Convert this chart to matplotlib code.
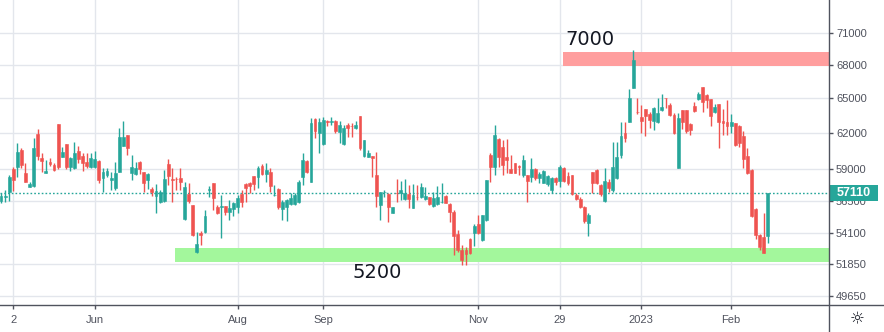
import matplotlib

matplotlib.use("Agg")
import matplotlib.pyplot as plt
import numpy as np
from matplotlib.lines import Line2D
from matplotlib.patches import Rectangle
from matplotlib.ticker import NullLocator
from matplotlib.transforms import blended_transform_factory

# daily OHLC, oldest first
opens = [
    56490, 56820, 57190, 59010, 59170, 60550, 58690, 57580, 57660, 61880,
    59900, 58690, 59570, 59330, 62730, 59980, 61050, 59170, 59090, 60470,
    60060, 59570, 59170, 59170, 59650, 58290, 58530, 58130, 57500, 58770,
    60880, 61800, 58690, 58610, 59570, 58770, 58130, 57420, 56880, 56420,
    56490, 59410, 58210, 58240, 58290, 55130, 57030, 56190, 52710, 54090,
    54160, 57380, 57890, 56030, 56070, 56110, 55660, 55880, 56030, 57030,
    57810, 57890, 58450, 58370, 59250, 58610, 58770, 56920, 57420, 55880,
    56030, 56260, 56260, 56420, 58370, 59650, 57970, 63160, 61970, 61050,
    62990, 62940, 62990, 62060, 61050, 62650, 62580, 62390, 63420, 60060,
    59980, 60060, 58530, 56190, 57150, 57030, 55580, 57130, 57110, 56650,
    57030, 55960, 56820, 56800, 56650, 56800, 56110, 56260, 56400, 56880,
    56260, 55660, 54020, 52850, 52850, 53650, 54090, 54750, 53580, 55050,
    60140, 59170, 61470, 60800, 59980, 59010, 59490, 59250, 58530, 58530,
    58370, 59010, 58290, 57890, 57810, 57340, 58290, 58050, 59090, 58450,
    58530, 56960, 56650, 56030, 54830, 58770, 58930, 57740, 56490, 57970,
    57340, 58290, 60140, 61970, 62900, 65880, 63790, 63330, 64030, 63590,
    62990, 62900, 63940, 65010, 64380, 63510, 59090, 63940, 63940, 62730,
    64290, 64900, 65970, 65260, 64900, 63760, 64460, 62990, 62900, 62560,
    62820, 62560, 61720, 60060, 58930, 55880, 53940, 53800, 53870,
]
highs = [
    57110, 57340, 58530, 59170, 61130, 60720, 59490, 57970, 61550, 62310,
    60310, 59730, 59900, 59490, 62730, 60800, 61050, 59980, 61220, 60880,
    60310, 60310, 60310, 60470, 59730, 59090, 59090, 58770, 59570, 62390,
    62990, 61800, 60140, 59570, 59650, 58770, 58690, 57580, 57810, 57340,
    58930, 59820, 59090, 58370, 59090, 57970, 57890, 56190, 54160, 54240,
    55810, 57660, 57890, 56190, 56960, 56110, 56570, 56420, 56960, 57340,
    57890, 57970, 58450, 59250, 59410, 59490, 59090, 57740, 57500, 56570,
    56650, 57110, 57110, 58130, 60310, 59730, 63240, 63240, 63240, 63330,
    63070, 63330, 63070, 62990, 62650, 62820, 62820, 62990, 63420, 61380,
    60550, 60060, 60390, 57190, 57340, 57110, 56030, 58210, 58050, 58210,
    57740, 57810, 57740, 57890, 57580, 56800, 57190, 57660, 57890, 56960,
    56340, 55810, 54310, 53210, 53060, 53720, 54750, 55430, 55430, 58130,
    60310, 62650, 61550, 61380, 61470, 60140, 59490, 59330, 60140, 58530,
    59900, 59090, 58770, 58930, 58530, 58370, 58370, 59330, 59170, 58770,
    58530, 57110, 56800, 56110, 55580, 58770, 59010, 57810, 59090, 58210,
    61210, 61210, 62900, 62900, 65790, 69370, 64990, 64380, 64030, 63760,
    64200, 64990, 65340, 65010, 64550, 63680, 63680, 63940, 63940, 62820,
    64640, 65520, 65970, 65340, 64900, 64460, 64460, 64030, 64810, 63590,
    62820, 62650, 62140, 60720, 59010, 55960, 54020, 55580, 57110,
]
lows = [
    56340, 56420, 56490, 57270, 58370, 59090, 57970, 57580, 57580, 59730,
    58770, 58690, 59250, 58850, 59010, 59980, 59010, 58850, 59010, 59490,
    58850, 59090, 59090, 59090, 57890, 57190, 58370, 57340, 57340, 58770,
    60880, 60140, 58130, 58530, 58610, 57190, 57420, 56880, 55580, 56340,
    56420, 57740, 56420, 57340, 57340, 55050, 56340, 53870, 52640, 53210,
    54090, 56800, 55810, 55500, 53720, 55430, 55050, 55350, 55580, 56030,
    56420, 57110, 57340, 57500, 58530, 57970, 57190, 56880, 55880, 55050,
    54980, 56190, 56190, 56340, 57740, 58690, 57970, 61550, 60310, 60970,
    62560, 62650, 61970, 61130, 60970, 61630, 61630, 62310, 60550, 59980,
    59980, 58370, 56030, 55050, 56800, 54900, 55580, 56420, 56570, 56570,
    55960, 55960, 56570, 56720, 56570, 56190, 56030, 56190, 56340, 56340,
    54900, 52490, 52710, 51780, 51780, 52570, 53140, 54020, 53500, 54980,
    57970, 58530, 59170, 58530, 58690, 58690, 58690, 58530, 58370, 56420,
    57970, 58130, 57890, 57890, 57660, 57110, 57740, 57580, 57970, 57740,
    56960, 56570, 55960, 54830, 53870, 57110, 57810, 56880, 56420, 57190,
    57190, 58210, 59900, 61210, 62900, 65880, 63590, 62000, 61720, 62390,
    62220, 62820, 63850, 64110, 63420, 61880, 59090, 62310, 61970, 61800,
    63760, 64810, 63760, 64110, 62560, 63680, 60720, 61800, 61800, 61970,
    60880, 60800, 59090, 58610, 55280, 53650, 52850, 52640, 53360,
]
closes = [
    56880, 56880, 58370, 58130, 60390, 59330, 57970, 57810, 60720, 60060,
    59650, 58850, 59410, 58930, 59170, 60390, 59170, 59900, 60310, 59820,
    59490, 59250, 59900, 59820, 58130, 58770, 58850, 58290, 58690, 61630,
    61630, 60720, 59170, 59090, 59010, 57890, 58610, 57190, 57270, 57190,
    58210, 58450, 58130, 58190, 57970, 57580, 56490, 53940, 53280, 53940,
    55350, 57420, 56720, 55580, 56110, 55660, 55960, 56340, 56720, 56420,
    57500, 57660, 57810, 59090, 58610, 58930, 57660, 56960, 56030, 56420,
    56570, 56720, 56960, 57970, 59730, 58770, 62820, 62140, 62900, 63070,
    62940, 62990, 62140, 62650, 62390, 62390, 62540, 62650, 60720, 61380,
    60310, 59900, 56880, 57190, 57190, 56030, 56030, 57090, 57340, 57110,
    56650, 56960, 56780, 57580, 56880, 56260, 56720, 56800, 56440, 56340,
    55660, 53870, 52850, 52140, 52570, 52640, 54610, 54090, 55430, 58130,
    59170, 61800, 59980, 59330, 59730, 58690, 58690, 59170, 59730, 58050,
    59010, 58290, 58610, 58850, 58450, 58290, 57970, 59170, 58050, 57890,
    57030, 56650, 56030, 54980, 55430, 57890, 57890, 57030, 58050, 57500,
    59170, 59980, 61720, 61550, 64990, 68440, 63740, 62990, 63420, 63070,
    64110, 63680, 64200, 64970, 63510, 61970, 63250, 62900, 62140, 62220,
    63850, 65340, 64640, 64810, 63420, 64200, 62900, 62820, 62560, 62900,
    60970, 61130, 59820, 58690, 55350, 53940, 53070, 52640, 57110,
]

date_ticks = [3, 23, 58, 79, 117, 137, 157, 179]
date_labels = ["2", "Jun", "Aug", "Sep", "Nov", "29", "2023", "Feb"]
price_ticks = [71000, 68000, 65000, 62000, 59000, 56500, 54100, 51850, 49650]

# drawn zones: (from bar, low, high)
resistance = (137.8, 67880, 69190)
support = (42.7, 51990, 52990)
zone_labels = [("7000", 138.3, 69850), ("5200", 86.1, 50870)]
last_price = 57110

GREEN = "#26a69a"
RED = "#ef5350"
GRID = "#e3e6ec"
AXIS = "#50535e"
TEXT = "#50535e"

W, H = 884, 332
fig = plt.figure(figsize=(W / 100, H / 100), dpi=100)
fig.patch.set_facecolor("white")
ax = fig.add_axes([0, 27 / H, 829 / W, 305 / H])
ax.set_yscale("log")
x_max = 203.0
ax.set_xlim(-0.245, x_max)
ax.set_ylim(49037, 74261)

o = np.array(opens, dtype=float)
h = np.array(highs, dtype=float)
l = np.array(lows, dtype=float)
c = np.array(closes, dtype=float)
idx = np.arange(len(o))
colors = np.where(c >= o, GREEN, RED)

# zones go under the candles
for start, lo, hi, col in [(*resistance, "#ff9e9e"), (*support, "#a3f79c")]:
    ax.add_patch(Rectangle((start, lo), x_max + 5 - start, hi - lo,
                           facecolor=col, edgecolor="none", zorder=1))

ax.vlines(idx, l, h, colors=colors, linewidth=1, zorder=3)
ax.bar(idx, np.abs(c - o), bottom=np.minimum(o, c), width=0.7,
       color=colors, edgecolor=colors, linewidth=0.4, zorder=3)

ax.axhline(last_price, color=GREEN, linewidth=1, linestyle=(0, (1.2, 1.5)), zorder=2)

for txt, xb, yp in zone_labels:
    ax.text(xb, yp, txt, fontsize=14, color="#131722", ha="left", va="baseline", zorder=4)

ax.set_xticks(date_ticks)
ax.set_xticklabels(date_labels)
ax.set_yticks(price_ticks)
ax.set_yticklabels([str(p) for p in price_ticks])
ax.yaxis.set_minor_locator(NullLocator())
ax.yaxis.tick_right()
ax.grid(True, color=GRID, linewidth=1, zorder=0)
ax.set_axisbelow(True)
for s in ax.spines.values():
    s.set_visible(False)
ax.tick_params(axis="x", length=3, width=1, color=AXIS, pad=4, labelsize=8, labelcolor=TEXT)
ax.tick_params(axis="y", length=3, width=1, color=AXIS, pad=2, labelsize=8, labelcolor=TEXT)
for t in ax.get_xticklabels() + ax.get_yticklabels():
    t.set_fontfamily("Liberation Sans")

# price tag on the scale, about 49 x 16 px
tag_tr = blended_transform_factory(ax.transAxes, ax.transData)
half = np.exp(8 / 735)
tag_w = 49 / 829
ax.add_patch(Rectangle((1.0, last_price / half), tag_w, last_price * half - last_price / half,
                       transform=tag_tr, facecolor=GREEN, edgecolor="none",
                       zorder=5, clip_on=False))
ax.text(1.0 + tag_w / 2, last_price, str(last_price), transform=tag_tr,
        ha="center", va="center", fontsize=9, fontweight="bold", color="white",
        family="Liberation Sans", zorder=6, clip_on=False)

fig.add_artist(Line2D([0, 1], [27 / H, 27 / H], color=AXIS, linewidth=1))
fig.add_artist(Line2D([829 / W, 829 / W], [0, 1], color=AXIS, linewidth=1))
fig.text(857 / W, 1 - 319 / H, "\u263c", fontsize=12, color="#131722", ha="center", va="center")

fig.savefig("out.png", dpi=100)
